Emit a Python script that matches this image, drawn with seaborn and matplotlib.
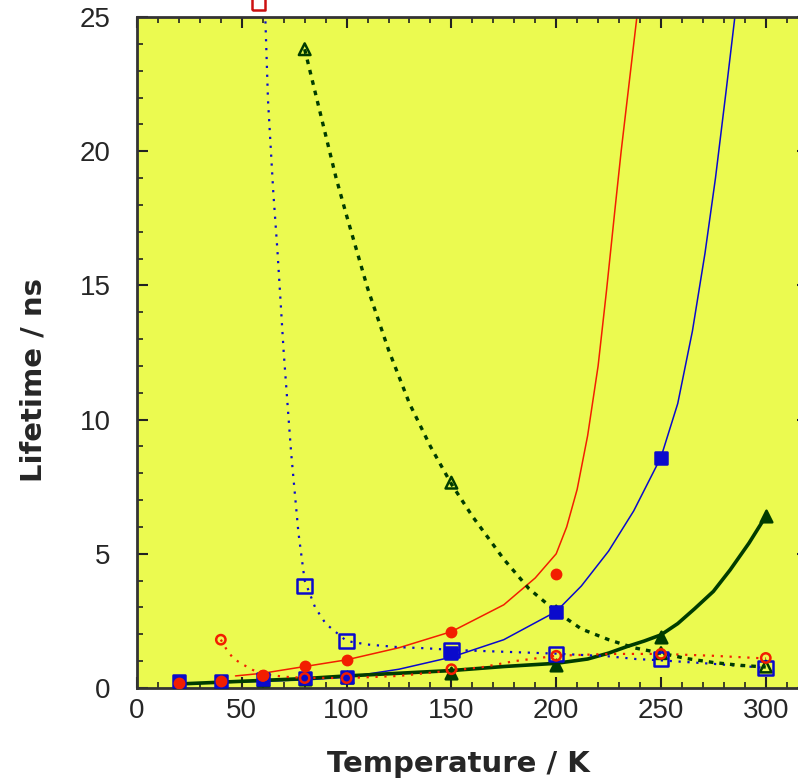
import matplotlib
matplotlib.use("Agg")
import matplotlib.pyplot as plt
import seaborn as sns
import pandas as pd
from matplotlib.ticker import MultipleLocator

# ---------------- data ----------------
# measured points
T_red_filled = [20, 40, 60, 80, 100, 150, 200]
Y_red_filled = [0.2, 0.25, 0.5, 0.82, 1.04, 2.09, 4.25]

T_red_open = [40, 60, 80, 100, 150, 200, 250, 300]
Y_red_open = [1.8, 0.45, 0.37, 0.37, 0.7, 1.2, 1.27, 1.12]

T_blue_filled = [20, 40, 60, 80, 100, 150, 200, 250]
Y_blue_filled = [0.25, 0.25, 0.35, 0.38, 0.4, 1.3, 2.84, 8.58]

T_blue_open = [80, 100, 150, 200, 250, 300]
Y_blue_open = [3.8, 1.75, 1.42, 1.27, 1.08, 0.75]

T_off_scale = [58]
Y_off_scale = [25.5]

T_green_filled = [20, 40, 60, 80, 100, 150, 200, 250, 300]
Y_green_filled = [0.15, 0.2, 0.3, 0.35, 0.4, 0.55, 0.85, 1.9, 6.4]

T_green_open = [80, 150, 200, 250, 300]
Y_green_open = [23.8, 7.65, 2.85, 1.3, 0.8]

# fitted curves
T_red_fit = [47, 60, 80, 100, 125, 150, 175, 190, 200, 205, 210, 215, 220, 224, 228, 231, 234, 237, 240]
Y_red_fit = [0.45, 0.55, 0.8, 1.05, 1.5, 2.1, 3.1, 4.1, 5.0, 6.0, 7.4, 9.4, 12.0, 14.8, 17.8, 20.0, 22.0, 24.0, 26.0]

T_red_dot = [40, 43, 46, 50, 55, 60, 70, 80, 100, 125, 150, 165, 180, 200, 225, 250, 275, 300]
Y_red_dot = [1.8, 1.4, 1.1, 0.9, 0.68, 0.52, 0.42, 0.38, 0.37, 0.45, 0.65, 0.78, 1.0, 1.2, 1.27, 1.27, 1.2, 1.1]

T_blue_fit = [20, 40, 60, 80, 100, 125, 150, 175, 200, 212, 225, 237, 250, 258, 265, 271, 276, 281, 286]
Y_blue_fit = [0.15, 0.2, 0.25, 0.3, 0.4, 0.7, 1.15, 1.8, 2.85, 3.8, 5.1, 6.6, 8.6, 10.6, 13.3, 16.2, 19.0, 22.2, 25.5]

T_blue_dot = [61, 62.5, 65, 67, 70, 73.5, 77, 80, 85, 90, 100, 110, 125, 138, 150, 175, 200, 225, 238, 250, 275, 300]
Y_blue_dot = [25.5, 21.9, 18.5, 16.3, 12.5, 8.8, 5.8, 4.0, 3.0, 2.4, 1.75, 1.62, 1.52, 1.48, 1.42, 1.35, 1.28, 1.18, 1.08, 1.03, 0.9, 0.75]

T_green_fit = [20, 50, 80, 100, 125, 150, 175, 200, 215, 225, 234, 242, 250, 258, 266, 275, 283, 292, 300]
Y_green_fit = [0.15, 0.25, 0.35, 0.45, 0.55, 0.65, 0.8, 0.92, 1.08, 1.3, 1.55, 1.75, 1.98, 2.4, 2.95, 3.6, 4.4, 5.4, 6.4]

T_green_dot = [80, 85, 90, 95, 100, 110, 120, 130, 140, 150, 160, 175, 187, 200, 212, 225, 237, 250, 262, 275, 287, 300]
Y_green_dot = [23.8, 22.2, 20.6, 19.0, 17.6, 14.9, 12.6, 10.6, 9.0, 7.6, 6.4, 4.8, 3.7, 2.85, 2.2, 1.8, 1.5, 1.3, 1.1, 0.95, 0.85, 0.78]

x_ticks = [0, 50, 100, 150, 200, 250, 300]
y_ticks = [0, 5, 10, 15, 20, 25]

# ---------------- style ----------------
sns.set_style("ticks")
plt.rcParams["font.family"] = ["Liberation Sans", "DejaVu Sans"]

YELLOW = "#EBFA50"
RED = "#F21E00"
BLUE = "#0A0ACC"
GREEN = "#003C00"

fig = plt.figure(figsize=(7.98, 7.79), dpi=100)
ax = fig.add_axes([137 / 798, 91 / 779, 670.7 / 798, 671 / 779])
ax.set_facecolor(YELLOW)


def curve(T, Y, color, lw, ls):
    df = pd.DataFrame({"T": T, "Y": Y})
    sns.lineplot(data=df, x="T", y="Y", ax=ax, color=color, linewidth=lw,
                 linestyle=ls, sort=False, estimator=None)


def points(T, Y, color, marker, size, filled, clip=True):
    df = pd.DataFrame({"T": T, "Y": Y})
    sns.scatterplot(data=df, x="T", y="Y", ax=ax, marker=marker, s=size,
                    facecolor=color if filled else "none",
                    edgecolor=color, linewidth=1.8, zorder=5, clip_on=clip)


curve(T_red_fit, Y_red_fit, RED, 1.1, "-")
curve(T_blue_fit, Y_blue_fit, BLUE, 1.1, "-")
curve(T_green_fit, Y_green_fit, GREEN, 2.6, "-")
curve(T_red_dot, Y_red_dot, RED, 1.6, (0, (1, 3)))
curve(T_blue_dot, Y_blue_dot, BLUE, 1.6, (0, (1, 3)))
curve(T_green_dot, Y_green_dot, GREEN, 2.4, (0, (1.4, 1.8)))

points(T_green_filled, Y_green_filled, GREEN, "^", 70, True)
points(T_green_open, Y_green_open, GREEN, "^", 70, False)
points(T_blue_filled, Y_blue_filled, BLUE, "s", 80, True)
points(T_blue_open, Y_blue_open, BLUE, "s", 110, False)
points(T_red_filled, Y_red_filled, RED, "o", 45, True)
points(T_red_open, Y_red_open, RED, "o", 45, False)
points(T_off_scale, Y_off_scale, "#CC1010", "s", 80, False, clip=False)

ax.set_xlim(0, 320)
ax.set_ylim(0, 25)
ax.set_xticks(x_ticks)
ax.set_yticks(y_ticks)
ax.xaxis.set_minor_locator(MultipleLocator(10))
ax.yaxis.set_minor_locator(MultipleLocator(1))
ax.tick_params(axis="both", which="both", direction="in", top=True, right=True,
               color="#222222")
ax.tick_params(axis="both", which="major", length=8, width=1.5, labelsize=20)
ax.tick_params(axis="both", which="minor", length=4, width=1.2)
ax.tick_params(axis="x", which="major", pad=7)
ax.tick_params(axis="y", which="major", pad=19)
for s in ax.spines.values():
    s.set_linewidth(2)
    s.set_color("#333333")

ax.set_xlabel("Temperature / K", fontsize=21, fontweight="bold", family="DejaVu Sans")
ax.set_ylabel("Lifetime / ns", fontsize=21, fontweight="bold", family="DejaVu Sans")
ax.xaxis.set_label_coords((458 - 137) / 670.7, -(750 - 688) / 671)
ax.yaxis.set_label_coords(-(137 - 48) / 670.7, (688 - 380) / 671)

fig.savefig("out.png", dpi=100, facecolor="white")
